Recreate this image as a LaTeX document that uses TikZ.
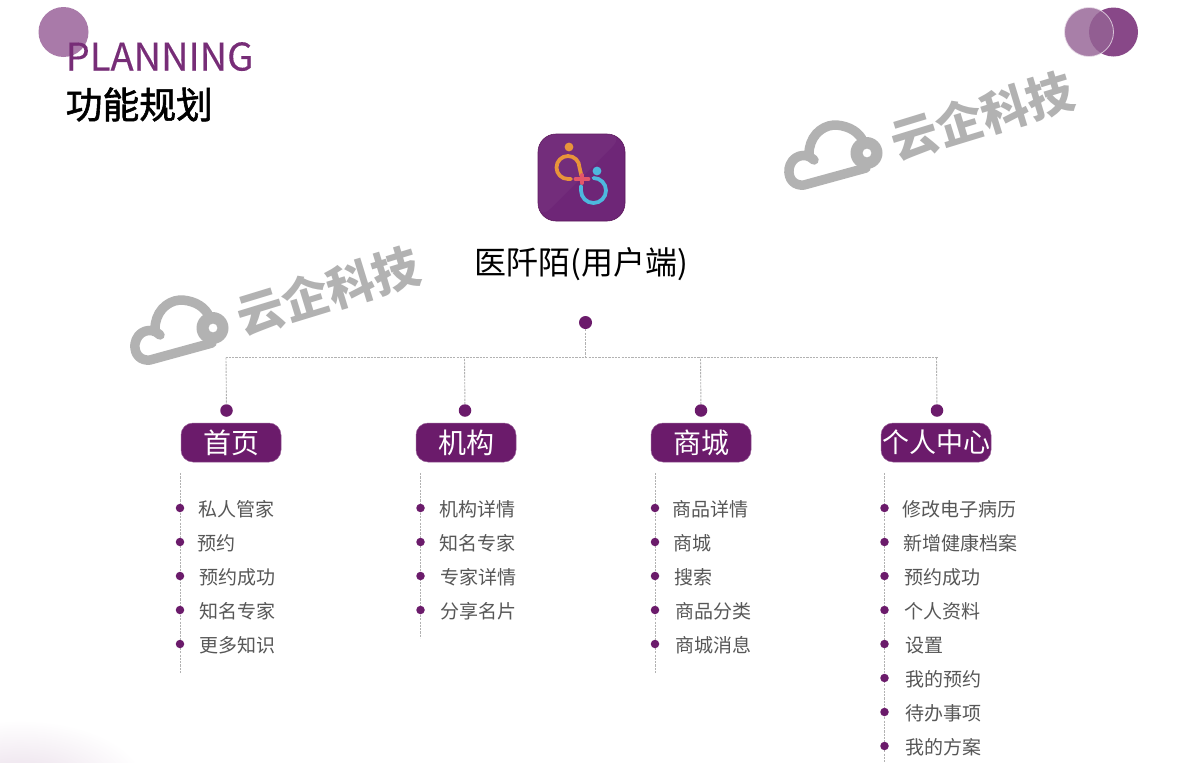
\documentclass[tikz,border=0pt]{standalone}
\usepackage{fontspec}
\setmainfont{Noto Sans CJK SC}
\newfontfamily\medfont[FakeBold=0.25]{Noto Sans CJK SC}
\newfontfamily\semifont[FakeBold=1.6]{Noto Sans CJK SC}
\definecolor{plum}{HTML}{6B1B6B}
\definecolor{wm}{HTML}{B2B2B2}
\definecolor{lilac}{HTML}{956495}
\definecolor{iconbg}{HTML}{6E2677}
\definecolor{iconorange}{HTML}{E8943A}
\definecolor{iconblue}{HTML}{4DB8DE}
\definecolor{iconred}{HTML}{E4566A}
\newcommand{\fsz}[1]{\fontsize{#1}{#1}\selectfont}
\newcommand{\pilltext}[1]{\raisebox{-1pt}{#1}}
\tikzset{
  dot/.style={circle,fill=plum,inner sep=0pt,minimum size=12.5pt},
  bul/.style={circle,fill=plum,inner sep=0pt,minimum size=8.5pt},
  pill/.style={rounded corners=12pt,fill=plum,draw=plum!70!white,line width=.5pt,text=white,minimum height=39pt,inner sep=0pt,font=\fsz{28}},
  item/.style={anchor=west,inner sep=0pt,text=black!66,font=\fsz{19}},
  dline/.style={draw=black!30,dash pattern=on 2.2pt off 1.1pt,line width=.9pt},
  wmtext/.style={text=wm,font=\bfseries\fsz{47},rotate=17,inner sep=0pt},
}
\newcommand{\cloudmark}[3]{%
  \begin{scope}[shift={(#1,#2)}]
    \fill[wm,even odd rule] (212.5,328) circle (16pt) (213,328) circle (4.5pt);
    \draw[wm,line width=9.5pt,line cap=round,line join=round]
      (160,335) .. controls (151,326) and (137,331) .. (135,344)
      .. controls (134,355) and (141,361) .. (150,360)
      -- (212,343)
      (208,314) .. controls (202,304) and (190,300) .. (180,300)
      .. controls (166,301) and (155,313) .. (155,329);
  \end{scope}
  \node[wmtext] (#3) at (#1+328,#2+291) {云企科技};
}
\begin{document}
\begin{tikzpicture}[x=1pt,y=-1pt]
\useasboundingbox (0,0) rectangle (1200,763);
\fill[white] (0,0) rectangle (1200,763);
% bottom-left glow
\begin{scope}
  \clip (0,690) rectangle (150,763);
  \shade[inner color=plum!15!white,outer color=white,shading=radial] (20,785) ellipse (125pt and 65pt);
\end{scope}
% decorative circles
\fill[plum,opacity=.58] (63.5,32) circle (25pt);
\fill[plum,opacity=.8] (1113.5,32) circle (24.5pt);
\fill[lilac,opacity=.82,draw=white!85!plum,line width=.8pt] (1089,32) circle (24.5pt);
% titles
\node[anchor=base west,inner sep=0pt,text=plum!92!white,font=\medfont\fsz{38}] (t1) at (65.5,70.5) {PLANNING};
\node[anchor=west,inner sep=0pt,text=black,font=\semifont\fsz{36.8}] (t2) at (65.5,104.5) {功能规划};
% watermarks
\cloudmark{0}{0}{wa}
\cloudmark{654}{-175}{wb}
% app icon
\fill[iconbg,rounded corners=18pt,draw=plum!85!black,line width=.6pt] (538,134) rectangle (625,221);
\fill[white,opacity=.035,rounded corners=18pt] (538,134) -- (625,134) -- (538,221) -- cycle;
\fill[iconorange] (569,147) circle (4.4pt);
\draw[iconorange,line width=3.8pt,line cap=round]
  (571,179) -- (568,179) arc[start angle=270,end angle=0,radius=11.5pt] -- (581.5,176);
\fill[iconblue] (597,171) circle (4.4pt);
\draw[iconblue,line width=3.8pt,line cap=round]
  (593.5,178) arc[start angle=90,end angle=-180,radius=12.5pt] -- (581,186);
\draw[iconred,line width=3.8pt,line cap=round] (575.5,179) -- (588.5,179) (582,175) -- (582,183);
% main title
\node[inner sep=0pt,text=black,font=\fsz{32}] (main) at (581.5,264.5) {医阡陌(用户端)};
\node[dot,minimum size=13pt] (root) at (585.5,322.5) {};
\coordinate (bus) at (585.5,357.5);
% headings
\node[dot] (d1) at (226.5,410.5) {};
\node[dot] (d2) at (465,410.5) {};
\node[dot] (d3) at (701,410.5) {};
\node[dot] (d4) at (937,410.5) {};
\node[pill,minimum width=100pt] (h1) at (231,442.5) {\pilltext{首页}};
\node[pill,minimum width=100pt] (h2) at (466,442.5) {\pilltext{机构}};
\node[pill,minimum width=100pt] (h3) at (701,442.5) {\pilltext{商城}};
\node[pill,minimum width=110pt,font=\fsz{27}] (h4) at (936,442.5) {\pilltext{个人中心}};
% tree connectors
\coordinate (c1) at (226,357.5);
\coordinate (c2) at (464.5,357.5);
\coordinate (c3) at (700.5,357.5);
\coordinate (c4) at (936.5,357.5);
\draw[dline] (root) -- (bus);
\draw[dline] (d1 |- c1) -- (c1) -- (c4) -- (d4 |- c4);
\draw[dline] (c1) -- (d1);
\draw[dline] (c4) -- (d4);
\draw[dline] (d2) -- (c2);
\draw[dline] (d3) -- (c3);
% column rails
\coordinate (a1) at (180,473); \coordinate (b1) at (180,673);
\coordinate (a2) at (420.5,473); \coordinate (b2) at (420.5,638);
\coordinate (a3) at (655,473); \coordinate (b3) at (655,673);
\coordinate (a4) at (884.5,473); \coordinate (b4) at (884.5,763);
\draw[dline] (a1) -- (b1);
\draw[dline] (a2) -- (b2);
\draw[dline] (a3) -- (b3);
\draw[dline] (a4) -- (b4);
% column 1
\node[bul] (p11) at (180,508) {}; \node[item] (i11) at (198,509) {私人管家};
\node[bul] (p12) at (180,542) {}; \node[item] (i12) at (197,543) {预约};
\node[bul] (p13) at (180,576) {}; \node[item] (i13) at (199,577) {预约成功};
\node[bul] (p14) at (180,610) {}; \node[item] (i14) at (199,611) {知名专家};
\node[bul] (p15) at (180,644) {}; \node[item] (i15) at (199.5,645) {更多知识};
% column 2
\node[bul] (p21) at (420.5,508) {}; \node[item] (i21) at (439,509) {机构详情};
\node[bul] (p22) at (420.5,542) {}; \node[item] (i22) at (439.5,543) {知名专家};
\node[bul] (p23) at (420.5,576) {}; \node[item] (i23) at (440,577) {专家详情};
\node[bul] (p24) at (420.5,610) {}; \node[item] (i24) at (440,611) {分享名片};
% column 3
\node[bul] (p31) at (655,508) {}; \node[item] (i31) at (672,509) {商品详情};
\node[bul] (p32) at (655,542) {}; \node[item] (i32) at (673.5,543) {商城};
\node[bul] (p33) at (655,576) {}; \node[item] (i33) at (674,577) {搜索};
\node[bul] (p34) at (655,610) {}; \node[item] (i34) at (675,611) {商品分类};
\node[bul] (p35) at (655,644) {}; \node[item] (i35) at (675.5,645) {商城消息};
% column 4
\node[bul] (p41) at (884.5,508) {}; \node[item] (i41) at (902,509) {修改电子病历};
\node[bul] (p42) at (884.5,542) {}; \node[item] (i42) at (903,543) {新增健康档案};
\node[bul] (p43) at (884.5,576) {}; \node[item] (i43) at (904,577) {预约成功};
\node[bul] (p44) at (884.5,610) {}; \node[item] (i44) at (904.5,611) {个人资料};
\node[bul] (p45) at (884.5,644) {}; \node[item] (i45) at (905,645) {设置};
\node[bul] (p46) at (884.5,678) {}; \node[item] (i46) at (905,679) {我的预约};
\node[bul] (p47) at (884.5,712) {}; \node[item] (i47) at (905,713) {待办事项};
\node[bul] (p48) at (884.5,746) {}; \node[item] (i48) at (905,747) {我的方案};
\end{tikzpicture}
\end{document}
